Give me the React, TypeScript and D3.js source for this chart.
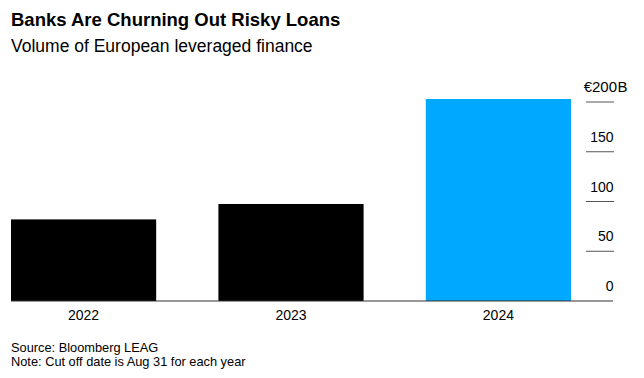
import React from "react";
import * as d3 from "d3";

const years = ["2022", "2023", "2024"];
const volumes = [82, 97.5, 203];
const barColors = ["#000000", "#000000", "#00a9ff"];
const tickValues = [0, 50, 100, 150, 200];
const titleText = "Banks Are Churning Out Risky Loans";
const subtitleText = "Volume of European leveraged finance";
const sourceText = "Source: Bloomberg LEAG";
const noteText = "Note: Cut off date is Aug 31 for each year";

const W = 644;
const H = 378;
const FONT = "'Liberation Sans', Arial, Helvetica, sans-serif";

export default function App() {
  const x = d3.scaleBand<string>().domain(years).range([11, 571]).paddingInner(0.3).paddingOuter(0);
  const y = d3.scaleLinear().domain([0, 200]).range([301, 102]);

  return (
    <svg
      width={W}
      height={H}
      style={{ position: "absolute", left: 0, top: 0, background: "#fff" }}
      fontFamily={FONT}
    >
      <text x={11} y={25.5} fontSize={18.5} fontWeight="bold" fill="#000">
        {titleText}
      </text>
      <text x={11} y={52} fontSize={17.5} fill="#000">
        {subtitleText}
      </text>

      {years.map((yr, i) => (
        <rect
          key={yr}
          x={x(yr)}
          y={y(volumes[i])}
          width={x.bandwidth()}
          height={y(0) - y(volumes[i])}
          fill={barColors[i]}
        />
      ))}

      {tickValues.map((t) => (
        <g key={t}>
          {t !== 0 && (
            <line x1={586} x2={614} y1={y(t)} y2={y(t)} stroke="#555" strokeWidth={1} />
          )}
          {t === 200 ? (
            <>
              <text x={617} y={y(t) - 10.5} fontSize={15} textAnchor="end" fill="#000">
                {"€" + t}
              </text>
              <text x={617.5} y={y(t) - 10.5} fontSize={15} textAnchor="start" fill="#000">
                B
              </text>
            </>
          ) : (
            <text x={613.5} y={y(t) - 10} fontSize={14} textAnchor="end" fill="#000">
              {t}
            </text>
          )}
        </g>
      ))}

      <line x1={11} x2={613} y1={y(0)} y2={y(0)} stroke="#333" strokeWidth={1.2} />

      {years.map((yr) => (
        <text
          key={"l" + yr}
          x={(x(yr) as number) + x.bandwidth() / 2}
          y={320}
          fontSize={14}
          textAnchor="middle"
          fill="#000"
        >
          {yr}
        </text>
      ))}

      <text x={11} y={351.5} fontSize={12.8} fill="#000">
        {sourceText}
      </text>
      <text x={11} y={365.5} fontSize={12.8} fill="#000">
        {noteText}
      </text>
    </svg>
  );
}
